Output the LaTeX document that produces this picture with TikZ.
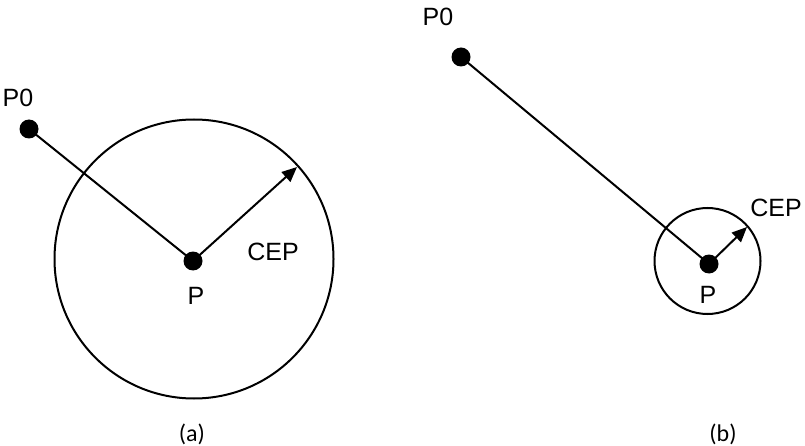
\documentclass[tikz,border=0pt]{standalone}
\usepackage{fontspec}
\setmainfont{Liberation Sans}
\newfontfamily\capfont{Carlito}
\usetikzlibrary{arrows.meta}
\tikzset{
  dot/.style={circle, fill=black, inner sep=0pt, minimum size=19pt},
  ring/.style={circle, draw=black, line width=2pt, inner sep=0pt},
  lbl/.style={font=\fontsize{25}{25}\selectfont, inner sep=0pt},
  captionlbl/.style={font=\capfont\fontsize{24}{24}\selectfont, inner sep=0pt},
  conn/.style={line width=2pt},
  cep/.style={line width=2pt, -{Triangle[length=15pt,width=13pt]}}
}
\begin{document}
\begin{tikzpicture}[x=1pt,y=-1pt]
\useasboundingbox (0,0) rectangle (805,446);
% (a)
\node[ring, minimum size=279pt] (ra) at (194,259) {};
\node[dot] (p0a) at (29,129) {};
\node[dot] (pa) at (193,261) {};
\coordinate (ta) at (297,167);
\draw[conn] (p0a.center) -- (pa.center);
\draw[cep] (pa.center) -- (ta);
\node[lbl] (lp0a) at (18,98) {P0};
\node[lbl] (lpa) at (196,296) {P};
\node[lbl] (lcepa) at (273,252) {CEP};
\node[captionlbl] (la) at (192,434) {(a)};
% (b)
\node[ring, minimum size=106pt] (rb) at (707.5,261) {};
\node[dot] (p0b) at (461,57) {};
\node[dot] (pb) at (709,264) {};
\coordinate (tb) at (747,227);
\draw[conn] (p0b.center) -- (pb.center);
\draw[cep] (pb.center) -- (tb);
\node[lbl] (lp0b) at (438,17) {P0};
\node[lbl] (lpb) at (708,295) {P};
\node[lbl] (lcepb) at (776,208) {CEP};
\node[captionlbl] (lb) at (723,434) {(b)};
\end{tikzpicture}
\end{document}
